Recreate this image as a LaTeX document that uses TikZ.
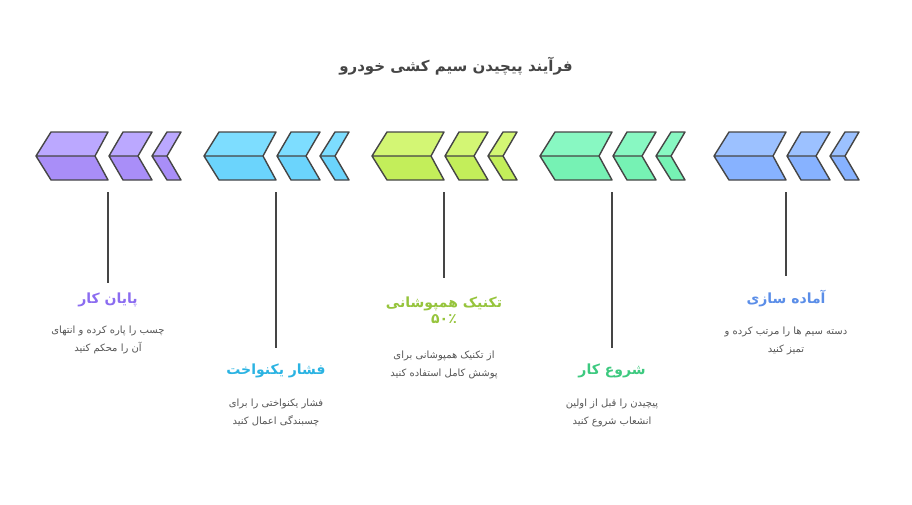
\documentclass[tikz,border=0pt]{standalone}
\usepackage{fontspec}
\TeXXeTstate=1
\newfontfamily\arabicfont[Script=Arabic]{DejaVu Sans}
\definecolor{edge}{HTML}{454545}
\definecolor{desc}{HTML}{555555}
\definecolor{pT}{HTML}{BBA8FF}\definecolor{pB}{HTML}{A98EF8}\definecolor{pX}{HTML}{8B6CF0}
\definecolor{cT}{HTML}{7DDDFF}\definecolor{cB}{HTML}{6BD4FC}\definecolor{cX}{HTML}{2BB3E2}
\definecolor{lT}{HTML}{D3F674}\definecolor{lB}{HTML}{C3EE5A}\definecolor{lX}{HTML}{96C43C}
\definecolor{gT}{HTML}{88F8C2}\definecolor{gB}{HTML}{76F2B4}\definecolor{gX}{HTML}{3DC97F}
\definecolor{bT}{HTML}{9CC1FF}\definecolor{bB}{HTML}{87B2FF}\definecolor{bX}{HTML}{5B8EE8}
\newcommand{\chevgroup}[3]{%
  \foreach \a/\b/\c/\d in {0/15/72/59,73/87/116/102,116/131/145/131}{%
    \fill[#2] (#1+\a,156) -- (#1+\b,132) -- (#1+\c,132) -- (#1+\d,156) -- cycle;
    \fill[#3] (#1+\a,156) -- (#1+\b,180) -- (#1+\c,180) -- (#1+\d,156) -- cycle;
    \draw[edge,line width=1.4pt,line join=round] (#1+\a,156) -- (#1+\b,132) -- (#1+\c,132) -- (#1+\d,156) -- (#1+\c,180) -- (#1+\b,180) -- cycle (#1+\a,156) -- (#1+\d,156);
  }}
\tikzset{ttl/.style={font=\arabicfont\bfseries\fontsize{14}{16}\selectfont,align=center},
  dsc/.style={font=\arabicfont\fontsize{10}{17.5}\selectfont,text=desc,align=center},
  conn/.style={draw=edge,line width=1.4pt}}
\begin{document}
\begin{tikzpicture}[x=1pt,y=-1pt]
\useasboundingbox (0,0) rectangle (912,504);
\node[font=\arabicfont\bfseries\fontsize{15}{18}\selectfont,text=edge] (title) at (456,66) {\beginR فرآیند پیچیدن سیم کشی خودرو\endR};
\chevgroup{36}{pT}{pB}
\chevgroup{204}{cT}{cB}
\chevgroup{372}{lT}{lB}
\chevgroup{540}{gT}{gB}
\chevgroup{714}{bT}{bB}
\coordinate (s1) at (108,192); \coordinate (e1) at (108,283);
\coordinate (s2) at (276,192); \coordinate (e2) at (276,348);
\coordinate (s3) at (444,192); \coordinate (e3) at (444,278);
\coordinate (s4) at (612,192); \coordinate (e4) at (612,348);
\coordinate (s5) at (786,192); \coordinate (e5) at (786,276);
\foreach \i in {1,...,5}{\draw[conn] (s\i) -- (e\i);}
\node[ttl,text=pX] (t1) at (108,300) {\beginR پایان کار\endR};
\node[dsc] (d1) at (108,340) {\beginR چسب را پاره کرده و انتهای\endR\\\beginR آن را محکم کنید\endR};
\node[ttl,text=cX] (t2) at (276,371) {\beginR فشار یکنواخت\endR};
\node[dsc] (d2) at (276,413) {\beginR فشار یکنواختی را برای\endR\\\beginR چسبندگی اعمال کنید\endR};
\node[ttl,text=lX] (t3) at (444,310) {\beginR تکنیک همپوشانی\endR\\\beginR ۵۰٪\endR};
\node[dsc] (d3) at (444,365) {\beginR از تکنیک همپوشانی برای\endR\\\beginR پوشش کامل استفاده کنید\endR};
\node[ttl,text=gX] (t4) at (612,371) {\beginR شروع کار\endR};
\node[dsc] (d4) at (612,413) {\beginR پیچیدن را قبل از اولین\endR\\\beginR انشعاب شروع کنید\endR};
\node[ttl,text=bX] (t5) at (786,299) {\beginR آماده سازی\endR};
\node[dsc] (d5) at (786,341) {\beginR دسته سیم ها را مرتب کرده و\endR\\\beginR تمیز کنید\endR};
\end{tikzpicture}
\end{document}
